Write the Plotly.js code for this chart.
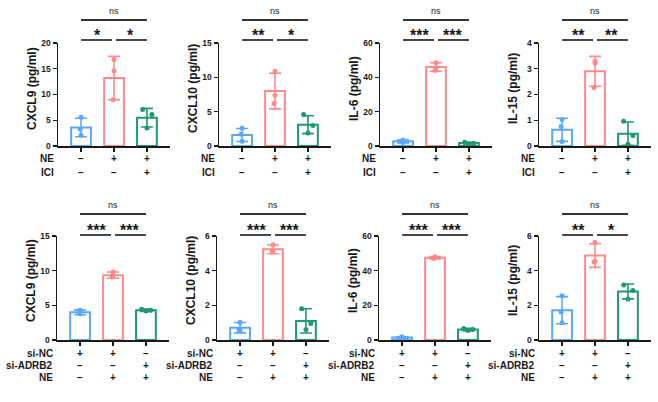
<!DOCTYPE html>
<html><head><meta charset="utf-8">
<script src="https://cdn.plot.ly/plotly-3.0.1.min.js"></script>
<style>html,body{margin:0;padding:0;background:#fff}#chart{width:658px;height:402px}</style>
</head><body><div id="chart"></div>
<script>
// ---------------- DATA ----------------
const panelTitles = ['CXCL9 (pg/ml)', 'CXCL10 (pg/ml)', 'IL-6 (pg/ml)', 'IL-15 (pg/ml)',
                     'CXCL9 (pg/ml)', 'CXCL10 (pg/ml)', 'IL-6 (pg/ml)', 'IL-15 (pg/ml)'];
const yMax  = [20, 15, 60, 4, 15, 6, 60, 6];
const yStep = [5, 5, 20, 1, 5, 2, 20, 2];

const means = [
  [3.6, 13.2, 5.5],
  [1.6, 8.0, 3.1],
  [2.7, 46.0, 1.7],
  [0.63, 2.9, 0.48],
  [3.99, 9.35, 4.3],
  [0.71, 5.23, 1.1],
  [1.5, 47.5, 6.0],
  [1.72, 4.87, 2.8]
];
const sds = [
  [1.8, 4.2, 1.8],
  [0.95, 2.6, 1.3],
  [0.9, 2.5, 0.5],
  [0.45, 0.58, 0.45],
  [0.35, 0.45, 0.18],
  [0.3, 0.25, 0.7],
  [0.4, 0.7, 0.7],
  [0.78, 0.68, 0.43]
];
const points = [
  [[5.6, 3.3, 2.1], [16.8, 14.6, 9.0], [7.1, 6.1, 3.5]],
  [[2.6, 1.7, 0.7], [10.9, 7.4, 6.2], [4.6, 3.0, 1.9]],
  [[3.5, 2.7, 2.0], [48.5, 45.6, 44.1], [2.2, 1.6, 1.3]],
  [[1.03, 0.76, 0.17], [3.29, 3.22, 2.27], [0.96, 0.41, 0.07]],
  [[4.3, 3.9, 3.8], [9.8, 9.2, 9.1], [4.45, 4.3, 4.2]],
  [[1.03, 0.6, 0.55], [5.5, 5.15, 5.1], [1.8, 0.95, 0.6]],
  [[1.2, 1.5, 1.9], [48.0, 47.4, 47.0], [6.6, 6.0, 5.5]],
  [[2.55, 1.62, 1.0], [5.63, 4.55, 4.5], [3.18, 2.85, 2.37]]
];
const sigLeft  = ['*', '**', '***', '**', '***', '***', '***', '**'];
const sigRight = ['*', '*', '***', '**', '***', '***', '***', '*'];
const sigTop   = ['ns', 'ns', 'ns', 'ns', 'ns', 'ns', 'ns', 'ns'];

const topRowNames = ['NE', 'ICI'];
const topRowSigns = [['−', '+', '+'], ['−', '−', '+']];
const botRowNames = ['si-NC', 'si-ADRB2', 'NE'];
const botRowSigns = [['+', '+', '−'], ['−', '−', '+'], ['−', '+', '+']];

// ---------------- STYLE / LAYOUT ----------------
const W = 658, H = 402;
const px = v => v / W;
const py = v => 1 - v / H;
const COLORS = ['#5AA9F6', '#FF8A8A', '#1E9A6C'];
const JIT = [[0, -0.03, 0], [0, 0, -0.03], [-0.13, 0.15, 0]];
const FONT = 'Liberation Sans, Arial, Helvetica, sans-serif';
const INK = '#1a1a1a';

const xDom = [[58, 170], [219, 331], [380, 492], [539, 651], [57, 169], [217, 329], [379, 491], [539, 651]];
const yDomTop = [43, 146], yDomBot = [236, 340];
const geom = {
  top: {ns: 20, star: 40, nsText: 18, starText: 46, titleY: 89, rows: [159, 172]},
  bot: {ns: 214, star: 235, nsText: 212, starText: 241, titleY: 281, rows: [353, 365, 377]}
};

const data = [];
const layout = {
  width: W, height: H, margin: {l: 0, r: 0, t: 0, b: 0},
  paper_bgcolor: '#fff', plot_bgcolor: 'rgba(0,0,0,0)',
  showlegend: false, barmode: 'overlay',
  font: {family: FONT, color: INK},
  shapes: [], annotations: []
};

for (let i = 0; i < 8; i++) {
  const n = i + 1;
  const xa = 'x' + (n === 1 ? '' : n), ya = 'y' + (n === 1 ? '' : n);
  const isTop = i < 4;
  const g = isTop ? geom.top : geom.bot;
  const yd = isTop ? yDomTop : yDomBot;
  const ax0 = xDom[i][0];

  layout['xaxis' + (n === 1 ? '' : n)] = {
    domain: [px(xDom[i][0]), px(xDom[i][1])], anchor: ya,
    range: [-0.7, 2.7], showgrid: false, zeroline: false,
    showline: true, linecolor: INK, linewidth: 1.5,
    ticks: 'outside', ticklen: 4, tickwidth: 1.3, tickcolor: INK,
    tickvals: [0, 1, 2], showticklabels: false, fixedrange: true
  };
  layout['yaxis' + (n === 1 ? '' : n)] = {
    domain: [py(yd[1]), py(yd[0])], anchor: xa,
    range: [0, yMax[i]], dtick: yStep[i], tick0: 0,
    showgrid: false, zeroline: false,
    showline: true, linecolor: INK, linewidth: 1.5,
    ticks: 'outside', ticklen: 4, tickwidth: 1.3, tickcolor: INK,
    tickfont: {family: FONT, size: 8.5, weight: 'bold', color: INK},
    fixedrange: true
  };

  for (let k = 0; k < 3; k++) {
    data.push({
      type: 'bar', x: [k], y: [means[i][k]], width: 0.6,
      xaxis: xa, yaxis: ya, hoverinfo: 'skip',
      marker: {color: 'rgba(255,255,255,0)', line: {color: COLORS[k], width: 2}},
      error_y: {type: 'data', array: [sds[i][k]], visible: true, color: COLORS[k], thickness: 1.6, width: 6}
    });
    data.push({
      type: 'scatter', mode: 'markers',
      x: points[i][k].map((v, j) => k + JIT[k][j]), y: points[i][k],
      xaxis: xa, yaxis: ya, hoverinfo: 'skip', cliponaxis: false,
      marker: {size: 5, color: COLORS[k]}
    });
  }

  // brackets
  const lineStyle = {color: '#333', width: 1.8};
  layout.shapes.push(
    {type: 'line', xref: xa, yref: 'paper', x0: 0, x1: 2, y0: py(g.ns), y1: py(g.ns), line: lineStyle},
    {type: 'line', xref: xa, yref: 'paper', x0: 0, x1: 0.94, y0: py(g.star), y1: py(g.star), line: lineStyle},
    {type: 'line', xref: xa, yref: 'paper', x0: 1.06, x1: 2, y0: py(g.star), y1: py(g.star), line: lineStyle}
  );
  layout.annotations.push(
    {xref: xa, yref: 'paper', x: 1, y: py(g.nsText), yanchor: 'bottom', text: sigTop[i], showarrow: false,
     font: {family: FONT, size: 9, color: INK}},
    {xref: xa, yref: 'paper', x: 0.5, y: py(g.starText), yanchor: 'bottom', text: sigLeft[i], showarrow: false,
     font: {family: FONT, size: 16, weight: 'bold', color: INK}},
    {xref: xa, yref: 'paper', x: 1.5, y: py(g.starText), yanchor: 'bottom', text: sigRight[i], showarrow: false,
     font: {family: FONT, size: 16, weight: 'bold', color: INK}}
  );

  // y title
  layout.annotations.push({
    xref: 'paper', yref: 'paper', x: px(ax0 - 26), y: py(g.titleY), text: panelTitles[i],
    textangle: -90, showarrow: false, xanchor: 'center', yanchor: 'middle',
    font: {family: FONT, size: 12, weight: 'bold', color: INK}
  });

  // condition rows
  const names = isTop ? topRowNames : botRowNames;
  const signs = isTop ? topRowSigns : botRowSigns;
  names.forEach((nm, r) => {
    layout.annotations.push({
      xref: 'paper', yref: 'paper', x: px(ax0 - 3), y: py(g.rows[r]), text: nm,
      xanchor: 'right', yanchor: 'middle', showarrow: false, borderpad: 0,
      font: {family: FONT, size: 10, weight: 'bold', color: INK}
    });
    signs[r].forEach((s, k) => {
      layout.annotations.push({
        xref: xa, yref: 'paper', x: k, y: py(g.rows[r]), text: s,
        xanchor: 'center', yanchor: 'middle', showarrow: false, borderpad: 0,
        font: {family: FONT, size: 10, weight: 'bold', color: INK}
      });
    });
  });
}

Plotly.newPlot('chart', data, layout, {staticPlot: true, displayModeBar: false});
</script></body></html>
